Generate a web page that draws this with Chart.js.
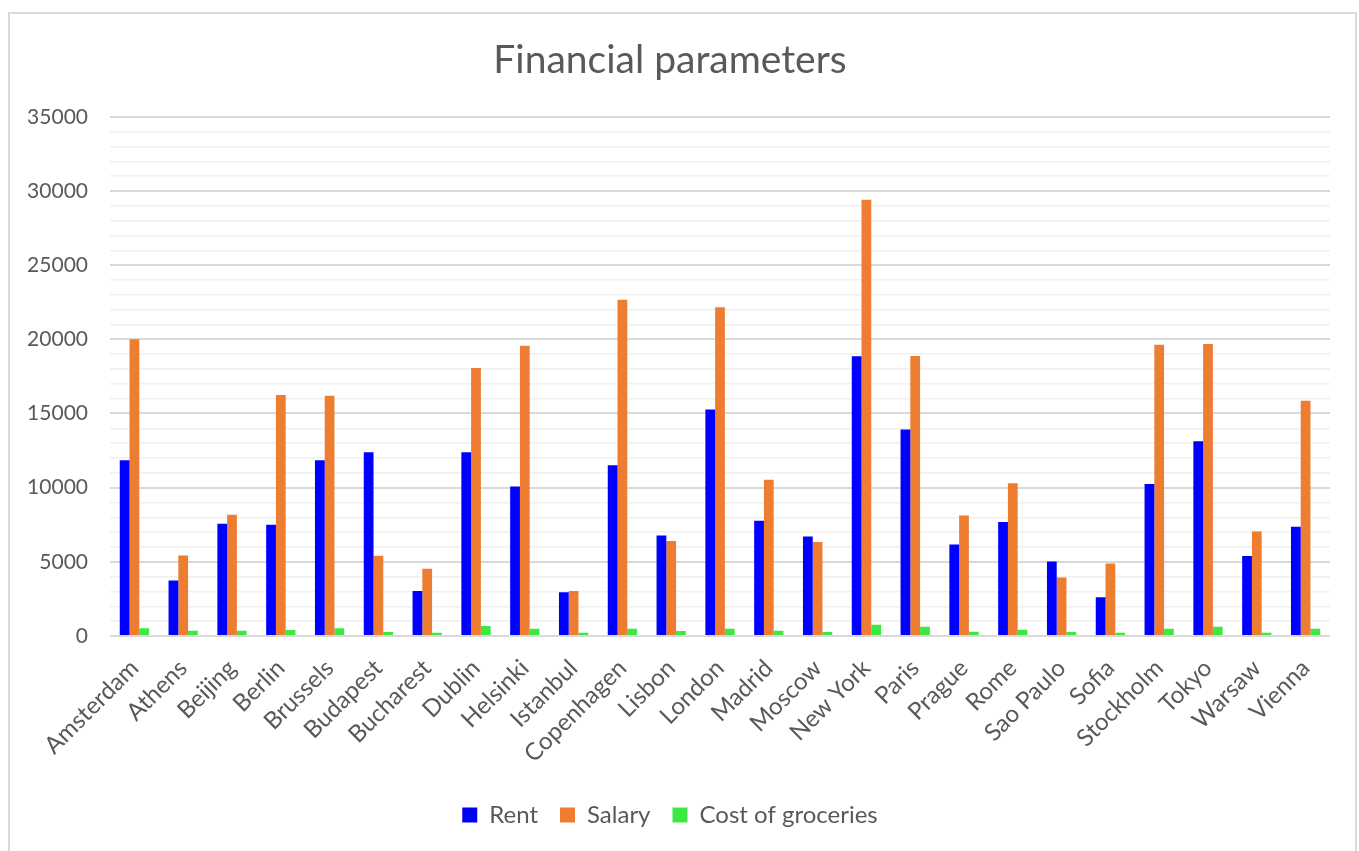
<!DOCTYPE html>
<html>
<head>
<meta charset="utf-8">
<script src="https://cdn.jsdelivr.net/npm/chart.js@4"></script>
<style>
    body { margin: 0; background: #fff; }
    #frame {
        position: absolute; left: 8px; top: 12px; width: 1349px; height: 900px;
        border: 2px solid #d9d9d9; box-sizing: border-box;
    }
    #wrap { position: absolute; left: 10px; top: 14px; width: 1338px; height: 837px; }
</style>
</head>
<body>
<div id="frame"></div>
<div id="wrap"><canvas id="myChart"></canvas></div>
<script>
const cities = ['Amsterdam', 'Athens', 'Beijing', 'Berlin', 'Brussels', 'Budapest',
    'Bucharest', 'Dublin', 'Helsinki', 'Istanbul', 'Copenhagen', 'Lisbon', 'London',
    'Madrid', 'Moscow', 'New York', 'Paris', 'Prague', 'Rome', 'Sao Paulo', 'Sofia',
    'Stockholm', 'Tokyo', 'Warsaw', 'Vienna'];

const rent = [11850, 3740, 7570, 7500, 11850, 12390, 3040, 12390, 10070, 2950, 11510, 6780,
    15270, 7770, 6710, 18850, 13920, 6170, 7680, 5020, 2610, 10250, 13130, 5400, 7370];

const salary = [20000, 5430, 8180, 16240, 16200, 5410, 4530, 18060, 19570, 3040, 22660, 6400,
    22160, 10540, 6330, 29410, 18870, 8130, 10290, 3940, 4890, 19640, 19690, 7050, 15860];

const groceries = [520, 360, 360, 405, 518, 270, 225, 680, 495, 225, 495, 338,
    495, 360, 270, 766, 630, 293, 428, 270, 225, 495, 630, 225, 495];

const yTicks = [0, 5000, 10000, 15000, 20000, 25000, 30000, 35000];

const font = "Lato, 'Open Sans', sans-serif";
const grey = '#595959';

const ctx = document.getElementById('myChart');

new Chart(ctx, {
    type: 'bar',
    data: {
        labels: cities,
        datasets: [
            { label: 'Rent', data: rent, backgroundColor: '#0000ff' },
            { label: 'Salary', data: salary, backgroundColor: '#ed7d31' },
            { label: 'Cost of groceries', data: groceries, backgroundColor: '#3ee843' }
        ]
    },
    options: {
        responsive: true,
        maintainAspectRatio: false,
        animation: false,
        datasets: {
            bar: { categoryPercentage: 0.6, barPercentage: 1.0 }
        },
        layout: { padding: { left: 0, right: 18, top: 0, bottom: 14 } },
        plugins: {
            title: {
                display: true,
                text: 'Financial parameters',
                color: grey,
                font: { family: font, size: 39, weight: 'normal' },
                padding: { top: 23, bottom: 33 }
            },
            legend: {
                position: 'bottom',
                labels: {
                    color: grey,
                    font: { family: font, size: 24 },
                    boxWidth: 15,
                    boxHeight: 15,
                    padding: 22
                }
            },
            tooltip: { enabled: false }
        },
        scales: {
            x: {
                grid: { display: false },
                border: { display: false },
                ticks: {
                    color: grey,
                    font: { family: font, size: 24 },
                    minRotation: 45,
                    maxRotation: 45,
                    autoSkip: false,
                    padding: 10
                },
                afterFit: function (scale) { scale.height = 145; }
            },
            y: {
                min: 0,
                max: 35000,
                border: { display: false },
                grid: {
                    drawTicks: false,
                    color: c => yTicks.includes(c.tick.value) ? '#d9d9d9' : '#f0f0f0',
                    lineWidth: c => yTicks.includes(c.tick.value) ? 2 : 1.5
                },
                ticks: {
                    stepSize: 1000,
                    autoSkip: false,
                    color: grey,
                    font: { family: font, size: 21 },
                    padding: 22,
                    callback: v => yTicks.includes(v) ? v : ''
                },
                afterFit: function (scale) { scale.width = 100; }
            }
        }
    }
});
</script>
</body>
</html>
